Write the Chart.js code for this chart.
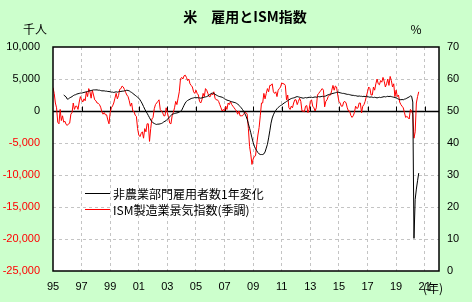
<!DOCTYPE html>
<html>
<head>
<meta charset="utf-8">
<script src="https://cdn.jsdelivr.net/npm/chart.js@4.4.0/dist/chart.umd.min.js"></script>
<style>
  html, body { margin: 0; padding: 0; background: #ccffcc; }
</style>
</head>
<body>
<canvas id="chart" width="472" height="302"></canvas>
<script>
// 米 雇用とISM指数
const titleText = '米　雇用とISM指数';
const leftUnit = '千人';
const rightUnit = '%';
const yearUnit = '(年)';

const yearTicks = [1995, 1997, 1999, 2001, 2003, 2005, 2007, 2009, 2011, 2013, 2015, 2017, 2019, 2021];

const payrollLabel = '非農業部門雇用者数1年変化';
const ismLabel = 'ISM製造業景気指数(季調)';

// ISM製造業景気指数 月次 1995/1～2020/8
const ismStart = 1995;
const ismValues = [
  57.3, 55.5, 52.5, 51.0, 46.5, 46.0, 50.5, 47.0, 48.5, 46.5, 46.8, 45.8, // 95
  45.5, 46.0, 46.2, 49.0, 49.5, 52.5, 50.5, 51.5, 51.5, 50.5, 52.8, 54.5, // 96
  53.5, 52.8, 53.8, 53.2, 56.0, 54.5, 57.0, 56.0, 54.0, 56.5, 55.0, 53.5, // 97
  53.2, 52.5, 52.4, 52.0, 51.2, 49.8, 49.0, 49.5, 48.8, 48.8, 47.2, 46.0, // 98
  49.5, 51.0, 51.6, 52.5, 54.0, 55.5, 53.8, 54.8, 56.8, 57.0, 57.8, 57.5, // 99
  56.7, 55.8, 55.0, 54.5, 53.2, 51.5, 52.5, 50.0, 49.8, 48.7, 48.3, 44.5, // 00
  42.5, 42.0, 43.0, 43.5, 41.5, 44.5, 43.5, 46.0, 46.0, 40.5, 44.5, 47.5, // 01
  48.0, 50.7, 52.0, 52.5, 53.0, 53.5, 50.5, 50.0, 49.5, 48.5, 48.5, 51.0, // 02
  49.5, 48.0, 46.2, 46.0, 48.5, 49.5, 51.0, 53.0, 52.0, 54.0, 56.0, 60.0, // 03
  60.5, 60.0, 61.0, 61.2, 60.5, 59.5, 60.0, 58.5, 58.0, 57.5, 56.0, 55.5, // 04
  56.5, 55.5, 55.0, 53.0, 52.5, 53.5, 55.5, 54.5, 57.0, 56.5, 55.5, 54.5, // 05
  54.5, 55.5, 55.0, 56.0, 54.0, 53.5, 53.5, 53.0, 52.0, 51.0, 50.0, 50.5, // 06
  50.0, 51.5, 50.5, 52.5, 52.0, 53.0, 52.0, 51.5, 51.0, 50.5, 50.0, 49.0, // 07
  50.0, 48.5, 48.5, 48.5, 49.0, 49.5, 49.5, 49.0, 44.5, 38.9, 36.5, 33.3, // 08
  35.0, 35.8, 36.0, 39.5, 42.5, 44.8, 48.5, 52.5, 52.5, 55.5, 53.8, 55.5, // 09
  57.0, 56.0, 58.0, 58.0, 58.5, 56.0, 55.5, 56.0, 54.5, 56.5, 57.0, 57.5, // 10
  58.8, 58.5, 58.5, 58.0, 53.5, 55.0, 51.0, 50.5, 51.5, 51.0, 52.5, 53.5, // 11
  53.5, 52.0, 53.0, 54.0, 53.0, 50.0, 50.0, 49.8, 51.5, 51.7, 49.5, 50.5, // 12
  53.0, 53.5, 51.5, 51.0, 50.0, 51.0, 55.0, 55.5, 56.0, 56.5, 57.0, 56.5, // 13
  51.3, 53.0, 53.5, 54.5, 55.0, 55.0, 56.5, 58.0, 56.5, 57.8, 57.5, 55.0, // 14
  53.0, 52.5, 51.5, 51.5, 52.8, 53.0, 52.5, 51.0, 50.0, 50.0, 48.6, 48.0, // 15
  48.5, 49.5, 51.5, 50.8, 51.0, 52.5, 52.5, 49.4, 51.5, 52.0, 53.0, 54.5, // 16
  56.0, 57.5, 57.0, 55.0, 55.0, 57.5, 56.5, 58.5, 60.0, 58.5, 58.2, 59.5, // 17
  59.0, 60.5, 59.3, 57.5, 58.5, 60.0, 58.0, 60.8, 59.5, 57.5, 58.5, 54.5, // 18
  56.5, 54.5, 55.0, 52.8, 52.0, 51.5, 51.0, 49.5, 48.0, 48.3, 48.0, 47.5, // 19
  50.5, 50.0, 49.0, 41.5, 43.5, 52.5, 54.5, 56.0                          // 20
];

// 非農業部門雇用者数 前年差(千人) 月次 1995/10～2020/8
const payrollStart = 1995 + 9 / 12;
const payrollValues = [
  2500, 2350, 2200,                                                             // 95
  1850, 1900, 2050, 2150, 2250, 2400, 2500, 2550, 2650, 2700, 2750, 2800,       // 96
  2800, 2850, 2900, 2950, 3000, 3050, 3100, 3150, 3200, 3250, 3300, 3300,       // 97
  3300, 3300, 3250, 3250, 3200, 3150, 3150, 3150, 3100, 3100, 3050, 3050,       // 98
  3000, 2950, 2950, 2900, 2950, 3000, 2950, 3000, 3050, 3050, 3100, 3100,       // 99
  3150, 3200, 3250, 3200, 3150, 3000, 2900, 2750, 2600, 2450, 2300, 2150,       // 00
  2000, 1750, 1450, 1100, 700, 300, -50, -350, -700, -1050, -1400, -1650,       // 01
  -1850, -1950, -2050, -2100, -2050, -2050, -2000, -1950, -1850, -1700, -1600, -1500, // 02
  -1300, -1100, -900, -700, -500, -450, -400, -350, -300, -250, -150, -50,      // 03
  100, 500, 900, 1250, 1500, 1650, 1750, 1850, 1950, 2000, 2050, 2100,          // 04
  2050, 2100, 2050, 2050, 2000, 2050, 2100, 2150, 2200, 2250, 2350, 2450,       // 05
  2650, 2750, 2800, 2750, 2600, 2500, 2400, 2300, 2250, 2200, 2150, 2050,       // 06
  1900, 1800, 1700, 1650, 1600, 1500, 1450, 1400, 1350, 1300, 1200, 1100,       // 07
  900, 700, 500, 250, -50, -400, -800, -1300, -2000, -2700, -3400, -4200,       // 08
  -4900, -5500, -5900, -6200, -6500, -6700, -6800, -6800, -6800, -6700, -6400, -5800, // 09
  -5200, -4200, -3100, -1900, -1100, -600, -200, 100, 350, 550, 700, 850,       // 10
  950, 1100, 1250, 1350, 1500, 1600, 1750, 1850, 1950, 2000, 2050, 2100,        // 11
  2200, 2250, 2200, 2150, 2100, 2050, 2000, 2050, 2100, 2050, 2100, 2150,       // 12
  2100, 2150, 2100, 2150, 2200, 2150, 2200, 2250, 2200, 2250, 2300, 2250,       // 13
  2300, 2350, 2450, 2550, 2600, 2650, 2700, 2750, 2800, 2850, 2900, 2950,       // 14
  2900, 2850, 2800, 2750, 2750, 2700, 2650, 2600, 2600, 2550, 2500, 2450,       // 15
  2450, 2400, 2400, 2350, 2300, 2350, 2300, 2300, 2250, 2300, 2250, 2300,       // 16
  2250, 2200, 2150, 2200, 2150, 2100, 2150, 2100, 2050, 2100, 2150, 2100,       // 17
  2150, 2200, 2250, 2200, 2250, 2300, 2250, 2300, 2250, 2200, 2150, 2100,       // 18
  2050, 1950, 1850, 1800, 1750, 1800, 1750, 1850, 1900, 2000, 2100, 2200,       // 19
  2350, 2300, 1400, -19900, -13800, -12200, -10900, -9700                       // 20
];

const toPoints = (start, values) => values.map((v, i) => ({ x: start + i / 12, y: v }));

const cjk = "'Noto Sans CJK JP', 'Noto Sans', sans-serif";
const tickFont = { family: "'Liberation Sans', sans-serif", size: 11 };
const gridGray = '#c4c4c4';
const clear = 'rgba(0,0,0,0)';

// 背景・枠・ゼロ線・凡例・文字
const decor = {
    id: 'decor',
    beforeDraw(chart) {
        const { ctx, chartArea: a } = chart;
        ctx.save();
        ctx.fillStyle = '#ccffcc';
        ctx.fillRect(0, 0, chart.width, chart.height);
        ctx.fillStyle = '#ffffff';
        ctx.fillRect(a.left, a.top, a.right - a.left, a.bottom - a.top);
        ctx.restore();
    },
    beforeDatasetsDraw(chart) {
        const { ctx, chartArea: a, scales } = chart;
        const y0 = Math.round(scales.y.getPixelForValue(0)) + 0.5;
        ctx.save();
        ctx.strokeStyle = '#000';
        ctx.lineWidth = 1.5;
        ctx.beginPath();
        ctx.moveTo(a.left, y0);
        ctx.lineTo(a.right, y0);
        ctx.stroke();
        ctx.lineWidth = 1;
        ctx.beginPath();
        yearTicks.slice(1).forEach((v) => {
            const x = Math.round(scales.x.getPixelForValue(v)) + 0.5;
            ctx.moveTo(x, y0);
            ctx.lineTo(x, y0 - 5);
        });
        ctx.stroke();
        ctx.restore();
    },
    afterDraw(chart) {
        const { ctx, chartArea: a } = chart;
        ctx.save();
        ctx.strokeStyle = '#000';
        ctx.lineWidth = 1.5;
        ctx.strokeRect(a.left, a.top, a.right - a.left, a.bottom - a.top);

        ctx.fillStyle = '#000';
        ctx.textBaseline = 'middle';
        ctx.textAlign = 'center';
        ctx.font = 'bold 14px ' + cjk;
        ctx.fillText(titleText, 245, 17);
        ctx.font = '12px ' + cjk;
        ctx.fillText(leftUnit, 35, 29);
        ctx.fillText(rightUnit, 416, 29);
        ctx.fillText(yearUnit, 433, 288);

        // 凡例
        ctx.textAlign = 'left';
        chart.data.datasets.forEach((ds, i) => {
            const y = 193 + i * 16;
            ctx.strokeStyle = ds.borderColor;
            ctx.lineWidth = 1;
            ctx.beginPath();
            ctx.moveTo(85, y + 0.5);
            ctx.lineTo(110, y + 0.5);
            ctx.stroke();
            ctx.fillStyle = '#000';
            ctx.fillText(ds.label, 113, y + 1);
        });
        ctx.restore();
    }
};

new Chart(document.getElementById('chart'), {
    type: 'line',
    data: {
        datasets: [{
            label: payrollLabel,
            data: toPoints(payrollStart, payrollValues),
            yAxisID: 'y',
            borderColor: '#000000',
            borderWidth: 1,
            pointRadius: 0,
            tension: 0
        }, {
            label: ismLabel,
            data: toPoints(ismStart, ismValues),
            yAxisID: 'y1',
            borderColor: '#ff0000',
            borderWidth: 1,
            pointRadius: 0,
            tension: 0
        }]
    },
    options: {
        responsive: false,
        animation: false,
        devicePixelRatio: 1,
        layout: { padding: { top: 47, left: 0, right: 0, bottom: 0 } },
        plugins: {
            legend: { display: false },
            title: { display: false },
            tooltip: { enabled: false }
        },
        scales: {
            x: {
                type: 'linear',
                min: 1995,
                max: 2022,
                afterBuildTicks: (s) => { s.ticks = yearTicks.map((v) => ({ value: v })); },
                afterFit: (s) => { s.height = 31; },
                ticks: {
                    autoSkip: false,
                    maxRotation: 0,
                    padding: 9,
                    color: '#000',
                    font: tickFont,
                    callback: (v) => String(v % 100).padStart(2, '0')
                },
                grid: {
                    drawTicks: false,
                    color: (c) => (c.index === 0 ? clear : gridGray),
                    lineWidth: 1
                },
                border: { display: false, dash: [3, 3] }
            },
            y: {
                position: 'left',
                min: -25000,
                max: 10000,
                afterFit: (s) => { s.width = 53; },
                ticks: {
                    stepSize: 5000,
                    padding: 13,
                    font: tickFont,
                    color: (c) => (c.tick.value < 0 ? '#ff0000' : '#000000'),
                    callback: (v) => v.toLocaleString('en-US')
                },
                grid: {
                    drawTicks: false,
                    color: (c) => ([0, -25000, 10000].includes(c.tick.value) ? clear : gridGray),
                    lineWidth: 1
                },
                border: { display: false, dash: [3, 3] }
            },
            y1: {
                position: 'right',
                min: 0,
                max: 70,
                afterFit: (s) => { s.width = 33; },
                ticks: {
                    stepSize: 10,
                    padding: 8,
                    color: '#000',
                    font: tickFont
                },
                grid: { drawOnChartArea: false, drawTicks: false },
                border: { display: false }
            }
        }
    },
    plugins: [decor]
});
</script>
</body>
</html>
